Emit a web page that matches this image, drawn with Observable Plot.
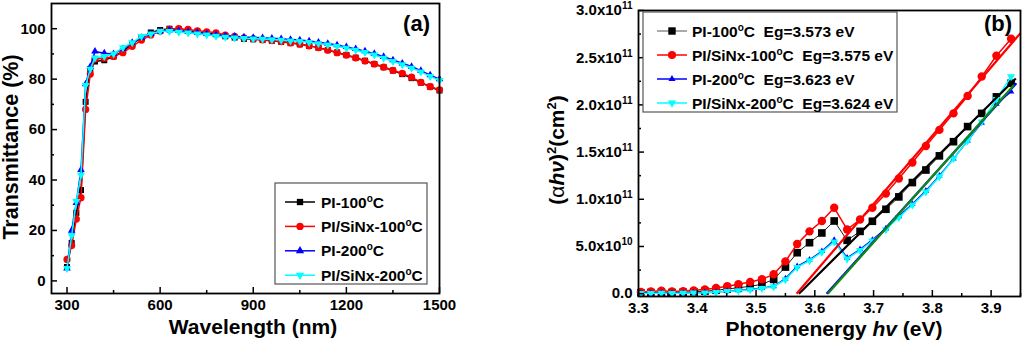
<!DOCTYPE html>
<html><head><meta charset="utf-8">
<script src="https://cdn.jsdelivr.net/npm/d3@7"></script>
<script src="https://cdn.jsdelivr.net/npm/@observablehq/plot@0.6"></script>
<style>
body{margin:0;background:#fff;}
#wrap{position:relative;width:1024px;height:342px;overflow:hidden;background:#fff;}
#wrap svg{position:absolute;top:0;}
</style>
</head><body><div id="wrap"></div>
<script>
// ---------- Panel (a): transmittance ----------
const wavelengthA = [300,315,330,345,360,375,390,420,450,480,510,540,570,600,630,660,690,720,750,780,810,840,870,900,930,960,990,1020,1050,1080,1110,1140,1170,1200,1230,1260,1290,1320,1350,1380,1410,1440,1470,1500];
const pi100A   = [5.5,15,27,36,71,84,87,87.5,89,91,94,96.5,98.5,99.5,100,99.8,99.3,98.8,98.3,97.8,97,96.5,96,95.8,95.5,95.2,94.8,94.3,93.8,93.2,92.5,91.6,90.6,89.6,88.5,87.3,86,84.7,83.4,82,80.4,78.6,77,75.5];
const sinx100A = [8.5,14,24.5,33,68,82,88,88.3,89,90.5,93,95.5,97.5,99,99.7,100,99.7,99.2,98.8,98.4,97.5,97,96.4,96,95.6,95.3,94.9,94.4,93.9,93.2,92.5,91.5,90.5,89.5,88.4,87.2,86,84.8,83.5,82.3,80.8,78.7,77,75.8];
const pi200A   = [5,20,31,44,78,85,91,90.3,90,92,94.5,96.5,98,99,99.5,99.2,98.8,98.5,98,97.6,97.2,97,96.7,96.5,96.4,96.2,96,95.7,95.5,95.1,94.6,94.1,93.5,92.8,92,91.1,90.1,88.9,87.6,86.3,85,83.4,81.6,80];
const sinx200A = [5,18,31.5,42,77.5,84,88.5,89,90,92.5,94.5,97,98,99,99,98.7,98.4,98,97.6,97.1,96.7,96.4,96.2,96,95.9,95.7,95.5,95.2,95,94.6,94.1,93.6,93,92.3,91.5,90.6,89.6,88.4,87.1,85.8,84.4,82.9,81.1,79.5];
const xTicksA = [300,600,900,1200,1500];
const xMinorA = [450,750,1050,1350];
const yTicksA = [0,20,40,60,80,100];
const yMinorA = [10,30,50,70,90];

// ---------- Panel (b): Tauc plot, values in units of 1e10 cm^-2 ----------
const energyB = [3.304,3.321,3.339,3.357,3.376,3.394,3.413,3.432,3.451,3.470,3.490,3.510,3.530,3.550,3.570,3.591,3.612,3.633,3.655,3.677,3.698,3.721,3.743,3.766,3.789,3.812,3.836,3.860,3.884,3.909,3.934];
const pi100B   = [0.1,0.12,0.15,0.12,0.15,0.2,0.27,0.36,0.5,0.62,0.78,0.99,1.51,2.82,4.34,5.4,6.43,7.7,5.65,6.6,7.67,8.94,10.25,11.77,13.1,14.6,16.1,17.7,19.1,20.85,22.3];
const sinx100B = [0.17,0.24,0.31,0.24,0.27,0.35,0.45,0.6,0.78,0.99,1.24,1.52,2.05,3.42,5.26,6.6,7.7,9.1,6.8,7.85,9.1,10.6,12.2,13.9,15.65,17.35,19.1,20.95,23.0,25.2,27.0];
const pi200B   = [0.05,0.05,0.06,0.05,0.06,0.1,0.12,0.17,0.28,0.35,0.45,0.6,0.78,1.6,2.9,3.6,4.5,5.7,3.8,4.7,5.7,6.9,8.2,9.5,10.9,12.5,14.3,16.2,18.1,20.1,21.4];
const sinx200B = [0.03,0.04,0.05,0.04,0.05,0.08,0.1,0.15,0.25,0.32,0.42,0.56,0.74,1.5,2.8,3.5,4.4,5.5,3.7,4.6,5.6,6.8,8.1,9.4,10.8,12.4,14.3,16.2,18.2,20.6,23.0];
// linear fits: intercept energy, end point
const fitStartE = [3.573, 3.569, 3.620, 3.622];
const fitEndE   = [3.942, 3.950, 3.943, 3.939];
const fitEndV   = [22.8, 27.6, 22.3, 22.1];
const fitColors = ["black", "red", "blue", "#108a10"];
const xTicksB = [3.3,3.4,3.5,3.6,3.7,3.8,3.9];
const xTickLabelsB = ["3.3","3.4","3.5","3.6","3.7","3.8","3.9"];
const xMinorB = [3.35,3.45,3.55,3.65,3.75,3.85,3.95];
const yTicksB = [0,5,10,15,20,25,30];
const yTickLabelsB = ["0.0","5.0x10^10","1.0x10^11","1.5x10^11","2.0x10^11","2.5x10^11","3.0x10^11"];
const yMinorB = [2.5,7.5,12.5,17.5,22.5,27.5];

const legendA = [
  {pre:"PI-100", post:"", color:"black", line:"black", lw:1.5, sym:"square"},
  {pre:"PI/SiNx-100", post:"", color:"red", line:"red", lw:1.5, sym:"circle"},
  {pre:"PI-200", post:"", color:"blue", line:"blue", lw:1.5, sym:"triangle"},
  {pre:"PI/SiNx-200", post:"", color:"cyan", line:"cyan", lw:1.5, sym:"down"}
];
const legendB = [
  {pre:"PI-100", post:"\u00a0\u00a0Eg=3.573 eV", color:"black", line:"#555", lw:1, sym:"square"},
  {pre:"PI/SiNx-100", post:"\u00a0\u00a0Eg=3.575 eV", color:"red", line:"red", lw:1.5, sym:"circle"},
  {pre:"PI-200", post:"\u00a0\u00a0Eg=3.623 eV", color:"blue", line:"blue", lw:1.5, sym:"triangle"},
  {pre:"PI/SiNx-200", post:"\u00a0\u00a0Eg=3.624 eV", color:"cyan", line:"cyan", lw:1.5, sym:"down"}
];

const sqrt3 = Math.sqrt(3);
const triangleDown = {
  draw(context, size) {
    const y = -Math.sqrt(size / (sqrt3 * 3));
    context.moveTo(0, -y * 2);
    context.lineTo(-sqrt3 * y, y);
    context.lineTo(sqrt3 * y, y);
    context.closePath();
  }
};
const symbols = {square: d3.symbolSquare, circle: d3.symbolCircle, triangle: d3.symbolTriangle, down: triangleDown};
const plotSymbols = {square: "square", circle: "circle", triangle: "triangle", down: triangleDown};

const FONT = "'Liberation Sans', Arial, Helvetica, sans-serif";
const baseStyle = {fontFamily: FONT, fontSize: "15px", fontWeight: "bold", color: "black", background: "transparent", overflow: "visible"};

function series(xs, ys) { return xs.map((x, i) => ({x, y: ys[i]})); }

function seriesMarks(xs, ys, color, sym, r, lw) {
  const d = series(xs, ys);
  return [
    Plot.line(d, {x: "x", y: "y", stroke: color, strokeWidth: lw}),
    Plot.dot(d, {x: "x", y: "y", symbol: plotSymbols[sym], r, fill: color, stroke: "none"})
  ];
}

function axes(xt, xm, yt, ym, xfmt, yfmt) {
  const none = () => "";
  return [
    Plot.axisX({ticks: xt, tickSize: 6, dy: -6, tickFormat: none, label: null, strokeWidth: 1.5}),
    Plot.axisX({ticks: xm, tickSize: 3, dy: -3, tickFormat: none, label: null, strokeWidth: 1.5}),
    Plot.axisX({ticks: xt, tickSize: 0, tickPadding: 6, tickFormat: xfmt, label: null}),
    Plot.axisY({ticks: yt, tickSize: 6, dx: 6, tickFormat: none, label: null, strokeWidth: 1.5}),
    Plot.axisY({ticks: ym, tickSize: 3, dx: 3, tickFormat: none, label: null, strokeWidth: 1.5}),
    Plot.axisY({ticks: yt, tickSize: 0, tickPadding: 6, tickFormat: yfmt, label: null})
  ];
}

const plotA = Plot.plot({
  width: 512, height: 342,
  marginLeft: 51, marginRight: 73, marginTop: 3, marginBottom: 49,
  x: {domain: [250, 1500], label: null},
  y: {domain: [-5, 110], label: null},
  style: baseStyle,
  marks: [
    ...seriesMarks(wavelengthA, pi100A, "black", "square", 3.4, 1.5),
    ...seriesMarks(wavelengthA, sinx100A, "red", "circle", 3.6, 1.5),
    ...seriesMarks(wavelengthA, pi200A, "blue", "triangle", 2.8, 1.5),
    ...seriesMarks(wavelengthA, sinx200A, "cyan", "down", 3.0, 1.5),
    ...axes(xTicksA, xMinorA, yTicksA, yMinorA, d => String(d), d => String(d)),
    Plot.frame({stroke: "black", strokeWidth: 1.8})
  ]
});
plotA.style.left = "0px";

const fits = fitStartE.map((e, i) => ({e1: e, v1: 0, e2: fitEndE[i], v2: fitEndV[i], c: fitColors[i]}));
const plotB = Plot.plot({
  width: 512, height: 342,
  marginLeft: 126, marginRight: 4, marginTop: 10, marginBottom: 46,
  x: {domain: [3.3, 3.95], label: null},
  y: {domain: [-0.3, 30], label: null},
  style: baseStyle,
  marks: [
    ...seriesMarks(energyB, pi100B, "black", "square", 4.3, 0.9),
    ...seriesMarks(energyB, sinx100B, "red", "circle", 4.2, 1.5),
    ...seriesMarks(energyB, pi200B, "blue", "triangle", 2.4, 1.3),
    ...seriesMarks(energyB, sinx200B, "cyan", "down", 3.0, 1.5),
    Plot.link(fits, {x1: "e1", y1: "v1", x2: "e2", y2: "v2", stroke: "c", strokeWidth: 2.2}),
    ...axes(xTicksB, xMinorB, yTicksB, yMinorB,
      d => xTickLabelsB[xTicksB.findIndex(t => Math.abs(t - d) < 1e-9)],
      d => yTickLabelsB[yTicksB.indexOf(d)]),
    Plot.frame({stroke: "black", strokeWidth: 1.8})
  ]
});
plotB.style.left = "512px";

const wrap = document.getElementById("wrap");
wrap.appendChild(plotA);
wrap.appendChild(plotB);

// superscripts in y tick labels of panel b
d3.select(plotB).selectAll("text").each(function() {
  const s = this.textContent;
  if (s.includes("^")) {
    const [base, exp] = s.split("^");
    const t = d3.select(this);
    t.text(null);
    t.append("tspan").text(base);
    t.append("tspan").attr("dy", -6).attr("font-size", 10).text(exp);
  }
});

function addLegend(svg, box, rows, o) {
  const g = d3.select(svg).append("g").attr("font-family", FONT).attr("font-weight", "bold").attr("text-anchor", "start");
  g.append("rect").attr("x", box[0]).attr("y", box[1]).attr("width", box[2]).attr("height", box[3])
    .attr("fill", "white").attr("stroke", "#555").attr("stroke-width", 1.2);
  rows.forEach((r, i) => {
    const cy = o.y0 + i * o.dy;
    g.append("line").attr("x1", o.lx1).attr("x2", o.lx2).attr("y1", cy).attr("y2", cy)
      .attr("stroke", r.line).attr("stroke-width", r.lw);
    const size = {square: o.sq, circle: o.ci, triangle: o.tr, down: o.dn}[r.sym];
    g.append("path").attr("transform", `translate(${(o.lx1 + o.lx2) / 2},${cy})`)
      .attr("d", d3.symbol(symbols[r.sym], size)()).attr("fill", r.color);
    const t = g.append("text").attr("x", o.tx).attr("y", cy + 5.5).attr("font-size", 15.5)
      .attr("fill", "black").attr("text-anchor", "start");
    t.append("tspan").text(r.pre);
    t.append("tspan").attr("dy", -6).attr("font-size", 10).text("o");
    t.append("tspan").attr("dy", 6).text("C" + r.post);
  });
}
addLegend(plotA, [275, 183, 152, 101], legendA, {y0: 202, dy: 24.4, lx1: 285, lx2: 315, tx: 321, sq: 40, ci: 42, tr: 30, dn: 30});
addLegend(plotB, [131, 12, 254, 100], legendB, {y0: 31, dy: 24, lx1: 145, lx2: 175, tx: 180, sq: 55, ci: 52, tr: 22, dn: 30});

// axis titles and panel labels
function addText(svg, x, y, parts, opts = {}) {
  const t = d3.select(svg).append("text")
    .attr("font-family", FONT).attr("font-weight", "bold").attr("font-size", opts.size || 21)
    .attr("text-anchor", opts.anchor || "middle").attr("fill", "black")
    .attr("transform", `translate(${x},${y})` + (opts.rotate ? ` rotate(${opts.rotate})` : ""));
  parts.forEach(p => {
    const sp = t.append("tspan").text(p.t);
    if (p.italic) sp.attr("font-style", "italic");
    if (p.normal) sp.attr("font-weight", "normal");
    if (p.dy) sp.attr("dy", p.dy);
    if (p.size) sp.attr("font-size", p.size);
  });
  return t;
}
addText(plotA, 18, 147, [{t: "Transmittance (%)"}], {rotate: -90, size: 21.5});
addText(plotA, 253, 334, [{t: "Wavelength (nm)"}]);
addText(plotA, 430, 31, [{t: "(a)"}], {anchor: "end", size: 22});
addText(plotB, 322, 336, [{t: "Photonenergy "}, {t: "hv", italic: true}, {t: " (eV)"}]);
addText(plotB, 500, 31, [{t: "(b)"}], {anchor: "end", size: 22});
addText(plotB, 52, 150, [
  {t: "("}, {t: "\u03b1", normal: true}, {t: "h\u03bd", italic: true}, {t: ")"},
  {t: "2", dy: -8, size: 13}, {t: "(cm", dy: 8}, {t: "2", dy: -8, size: 13}, {t: ")", dy: 8}
], {rotate: -90});
</script>
</body></html>
